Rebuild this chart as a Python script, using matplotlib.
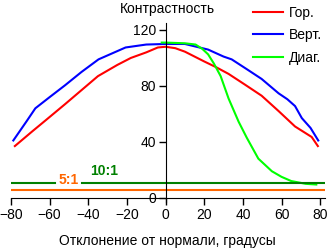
import matplotlib
matplotlib.use('Agg')
import matplotlib.pyplot as plt
import numpy as np

plt.rcParams['font.family'] = ['Liberation Sans', 'DejaVu Sans']

# Гор.
hor_x = [-78, -69, -62, -52, -35, -25, -18, -10, -4, 0, 5, 10, 15, 20, 26, 32.6, 41, 49.7, 58.5, 67, 75.6, 78.8]
hor_y = [37, 47.5, 55.5, 67, 87, 95, 100, 104, 107.5, 108, 107, 104.5, 101, 97.5, 93.5, 88.6, 81, 73, 62, 51, 43.5, 37]
# Верт.
ver_x = [-78.8, -76, -72, -67.4, -60, -52, -43.5, -34.7, -20.7, -10, 0, 10, 22, 30, 34.2, 42, 49.7, 58.5, 63, 67, 70.5, 75, 79]
ver_y = [41, 46.6, 54.6, 64, 72, 80.5, 90, 99, 107.5, 109.6, 110, 110, 106, 101, 99, 92, 85, 74.7, 70.5, 65.6, 57, 50, 41]
# Диаг.
dia_x = [-2, 0, 10, 15.5, 19, 22, 25, 28.5, 32.6, 37.8, 42, 48, 55, 60, 65, 72.5, 78]
dia_y = [111, 111, 110.5, 109.6, 106.5, 102.6, 96, 87, 71, 54.4, 43, 28, 19, 15, 12, 10, 9.5]

ratio_10 = 10.7
ratio_5 = 5.8

fig = plt.figure(figsize=(3.31, 2.49), dpi=100)
ax = fig.add_axes([11/331, (249-202)/249, (325-11)/331, (202-23)/249])

ax.plot(hor_x, hor_y, color='#ff0000', lw=1.5, label='Гор.')
ax.plot(ver_x, ver_y, color='#0000ff', lw=1.5, label='Верт.')
ax.plot(dia_x, dia_y, color='#00ff00', lw=1.5, label='Диаг.')

ax.plot([-80, -57], [ratio_10, ratio_10], color='#008000', lw=1.5)
ax.plot([-43, 83], [ratio_10, ratio_10], color='#008000', lw=1.5)
ax.plot([-80, 83], [ratio_5, ratio_5], color='#ff6600', lw=1.5)
ax.text(-50, 12.6, '5:1', color='#ff6600', fontsize=10, fontweight='bold',
        ha='center', va='center')
ax.text(-32, 19, '10:1', color='#008000', fontsize=10, fontweight='bold',
        ha='center', va='center')

ax.set_xlim(-80, 82.5)
ax.set_ylim(-3, 125)
ax.spines['left'].set_position(('data', 0))
ax.spines['bottom'].set_position(('data', 0))
ax.spines['right'].set_visible(False)
ax.spines['top'].set_visible(False)
ax.set_xticks(np.arange(-80, 81, 20))
ax.set_yticks([0, 40, 80, 120])
ax.tick_params(labelsize=10, length=5, width=1, pad=2)
ax.patch.set_alpha(0)

fig.text(167/331, 1 - 9/249, 'Контрастность', ha='center', va='center', fontsize=10)
fig.text(167/331, 1 - 241/249, 'Отклонение от нормали, градусы', ha='center', va='center', fontsize=10)

ax.legend(loc='upper left', bbox_to_anchor=(245/331, 1.008), bbox_transform=fig.transFigure,
          frameon=False, fontsize=10, handlelength=2.2, handletextpad=0.4,
          labelspacing=0.62, borderaxespad=0.15)

fig.savefig('out.png', dpi=100)
